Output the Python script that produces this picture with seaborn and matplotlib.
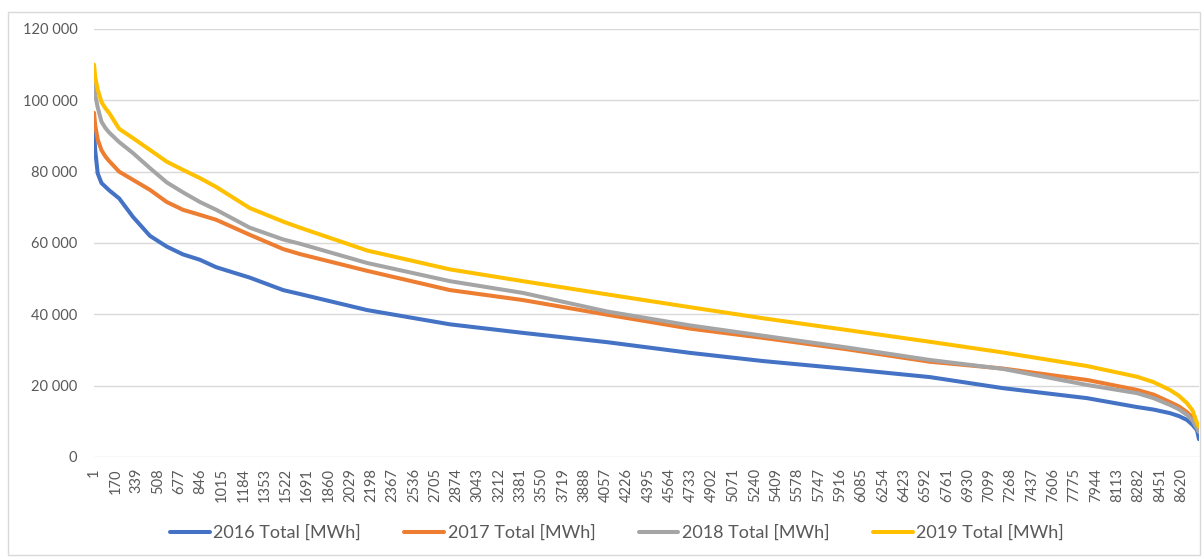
import numpy as np
import pandas as pd
import seaborn as sns
import matplotlib.pyplot as plt
from matplotlib.patches import Rectangle
from matplotlib.ticker import FuncFormatter

# load duration curve (hour rank -> MWh)
hours = [1, 10, 30, 60, 90, 120, 200, 310, 444, 577, 706, 840, 970, 1235,
         1500, 1633, 2165, 2822, 3401, 4067, 4725, 5304, 5970, 6628, 7207,
         7873, 8270, 8400, 8530, 8600, 8665, 8710, 8745, 8760]

total_2016 = [91000, 86000, 79500, 76800, 75800, 74800, 72500, 67300, 62000,
              59000, 56800, 55300, 53200, 50300, 46800, 45700, 41200, 37200,
              34800, 32200, 29200, 26900, 24700, 22400, 19300, 16500, 14000,
              13300, 12300, 11500, 10400, 9000, 7500, 5000]
total_2017 = [96500, 93000, 89000, 86000, 84300, 83000, 80000, 77700, 74900,
              71500, 69300, 67900, 66500, 62300, 58300, 56900, 52200, 46800,
              44000, 39900, 36000, 33400, 30200, 26700, 24800, 21600, 18800,
              17500, 15400, 14200, 12600, 11000, 8500, 7500]
total_2018 = [104500, 101500, 98000, 94000, 92300, 91000, 88300, 85200, 81000,
              77000, 74200, 71500, 69300, 64300, 61000, 59800, 54400, 49300,
              46000, 40800, 36900, 34000, 30700, 27200, 24700, 20200, 17900,
              16500, 14600, 13400, 11800, 10200, 8000, 7000]
total_2019 = [110000, 106500, 103000, 99500, 97800, 96500, 92000, 89400, 86100,
              82800, 80500, 78200, 75700, 69800, 66000, 64300, 57900, 52600,
              49300, 45600, 42000, 38900, 35600, 32300, 29300, 25500, 22500,
              21000, 18800, 17200, 15100, 13000, 9500, 8500]

series_names = ['2016 Total [MWh]', '2017 Total [MWh]', '2018 Total [MWh]', '2019 Total [MWh]']
colors = ['#4472C4', '#ED7D31', '#A5A5A5', '#FFC000']
tick_hours = list(range(1, 8621, 169))

df = pd.DataFrame({'hour': hours * 4,
                   'mwh': total_2016 + total_2017 + total_2018 + total_2019,
                   'series': np.repeat(series_names, len(hours))})

sns.set_style('white')
plt.rcParams['font.family'] = ['Lato', 'DejaVu Sans']

fig = plt.figure(figsize=(12.04, 5.59), dpi=100)
ax = fig.add_axes([94 / 1204, 1 - 457 / 559, 1105 / 1204, 428 / 559])

sns.lineplot(data=df, x='hour', y='mwh', hue='series', hue_order=series_names,
             palette=dict(zip(series_names, colors)), linewidth=2.9, ax=ax)

ax.set_xlim(0.5, 8760.5)
ax.set_ylim(0, 120000)
ax.set_yticks(range(0, 120001, 20000))
ax.yaxis.set_major_formatter(FuncFormatter(lambda v, p: f'{v:,.0f}'.replace(',', ' ')))
ax.set_xticks(tick_hours)
ax.set_xticklabels([str(h) for h in tick_hours], rotation=90)
ax.tick_params(axis='both', length=0, labelsize=10.5, labelcolor='#595959')
ax.tick_params(axis='y', pad=12)
ax.tick_params(axis='x', pad=8)
ax.grid(axis='y', color='#D9D9D9', linewidth=1)
ax.set_axisbelow(True)
ax.set_xlabel('')
ax.set_ylabel('')
for s in ax.spines.values():
    s.set_visible(False)

handles, labels = ax.get_legend_handles_labels()
ax.get_legend().remove()
fig.legend(handles, labels, loc='center', bbox_to_anchor=(617 / 1204, 1 - 533 / 559),
           ncol=4, frameon=False, fontsize=13, labelcolor='#595959',
           handlelength=2.2, handletextpad=0.2, columnspacing=2.4)

# chart area border
fig.patches.append(Rectangle((8 / 1204, 1 - 555 / 559), 1192 / 1204, 543 / 559,
                             transform=fig.transFigure, fill=False,
                             edgecolor='#D9D9D9', linewidth=1))

fig.savefig('out.png', dpi=100)
